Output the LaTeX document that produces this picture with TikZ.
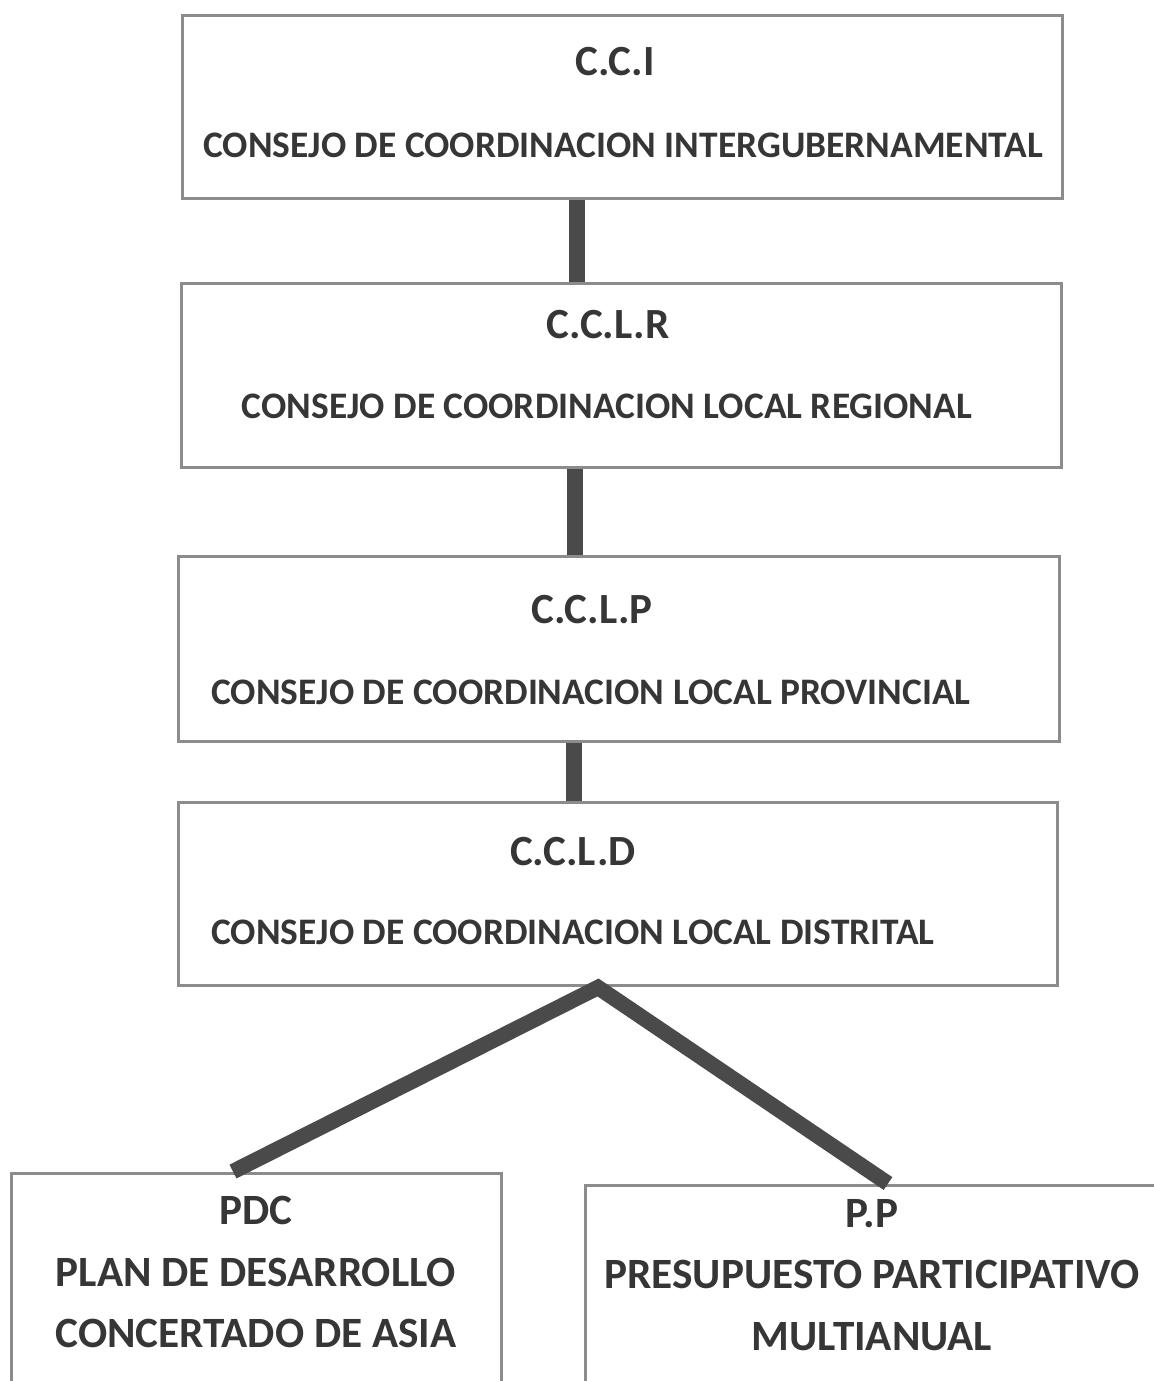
\documentclass[tikz,border=0pt]{standalone}
\usepackage{fontspec}
\setmainfont{Carlito}
\usepackage{tikz}
\usetikzlibrary{positioning}

\definecolor{marco}{HTML}{8C8C8C}
\definecolor{enlace}{HTML}{4A4A4A}
\definecolor{letra}{HTML}{363636}

\begin{document}
\begin{tikzpicture}[x=0.02cm,y=-0.02cm,
    caja/.style={draw=marco,line width=1.7pt,rectangle,inner sep=0pt},
    sigla/.style={text=letra,font=\fontsize{24.5}{28}\selectfont\bfseries,inner sep=0pt},
    nombre/.style={text=letra,font=\fontsize{21.3}{25}\selectfont\bfseries,inner sep=0pt},
    plan/.style={text=letra,font=\fontsize{24.6}{35.2}\selectfont\bfseries,inner sep=0pt,align=center},
    link/.style={draw=enlace,line width=8.8pt}]
        \useasboundingbox (0,0) rectangle (1153,1381);
        % cajas
        \node[caja,minimum width=17.62cm,minimum height=3.68cm] (cci)  at (622.5,107)   {};
        \node[caja,minimum width=17.62cm,minimum height=3.70cm] (cclr) at (621.5,375.5) {};
        \node[caja,minimum width=17.64cm,minimum height=3.72cm] (cclp) at (619,649)     {};
        \node[caja,minimum width=17.60cm,minimum height=3.68cm] (ccld) at (618,894)     {};
        \node[caja,minimum width=9.82cm,minimum height=4.94cm]  (pdc)  at (256.5,1296.5) {};
        \node[caja,minimum width=11.9cm,minimum height=4.70cm]  (pp)   at (882.5,1302.5) {};
        % textos
        \node[sigla]  (cci-s)  at (615,62)  {C.C.I};
        \node[nombre] (cci-n)  at (623,145) {CONSEJO DE COORDINACION INTERGUBERNAMENTAL};
        \node[sigla]  (cclr-s) at (608,325) {C.C.L.R};
        \node[nombre] (cclr-n) at (607,406) {CONSEJO DE COORDINACION LOCAL REGIONAL};
        \node[sigla]  (cclp-s) at (592,610) {C.C.L.P};
        \node[nombre] (cclp-n) at (591,692) {CONSEJO DE COORDINACION LOCAL PROVINCIAL};
        \node[sigla]  (ccld-s) at (573,852) {C.C.L.D};
        \node[nombre] (ccld-n) at (573,932) {CONSEJO DE COORDINACION LOCAL DISTRITAL};
        \node[plan] (pdc-t) at (256,1272) {PDC\\PLAN DE DESARROLLO\\CONCERTADO DE ASIA};
        \node[plan] (pp-t)  at (872,1275) {P.P\\PRESUPUESTO PARTICIPATIVO\\MULTIANUAL};
        % uniones
        \coordinate (j1) at (577,0);
        \coordinate (j2) at (575,0);
        \coordinate (j3) at (574,0);
        \coordinate (ap) at (598,0);
        \coordinate (pi) at (233,0);
        \coordinate (pd) at (888,0);
        \path[link]
        (cci.south -| j1) edge (cclr.north -| j1)
        (cclr.south -| j2) edge (cclp.north -| j2)
        (cclp.south -| j3) edge (ccld.north -| j3);
        \draw[link] (pdc.north -| pi) -- (ccld.south -| ap) -- (pp.north -| pd);
    \end{tikzpicture}
\end{document}
